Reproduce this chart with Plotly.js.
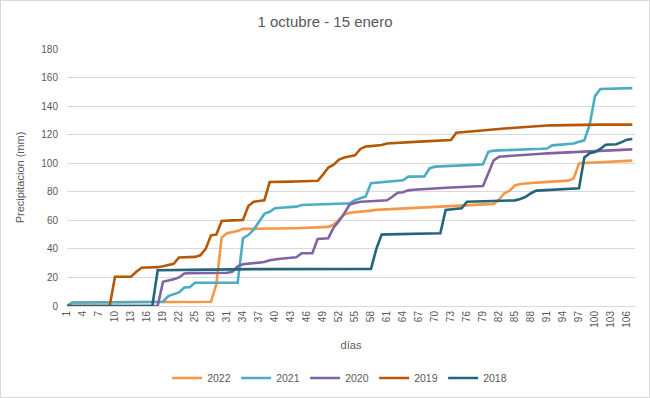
<!DOCTYPE html>
<html>
<head>
<meta charset="utf-8">
<script src="https://cdn.plot.ly/plotly-3.0.1.min.js"></script>
<style>
  html, body { margin: 0; padding: 0; background: #ffffff; }
  #wrap { position: relative; width: 650px; height: 398px; }
  #chart { width: 650px; height: 398px; }
  #frame { position: absolute; left: 0; top: 0; width: 650px; height: 398px; box-sizing: border-box; border: 1px solid #D9D9D9; pointer-events: none; }
</style>
</head>
<body>
<div id="wrap"><div id="chart"></div><div id="frame"></div></div>
<script>
// Categories: day number from 1 Oct
const days = [
  1,2,3,4,5,6,7,8,9,10,
  11,12,13,14,15,16,17,18,19,20,
  21,22,23,24,25,26,27,28,29,30,
  31,32,33,34,35,36,37,38,39,40,
  41,42,43,44,45,46,47,48,49,50,
  51,52,53,54,55,56,57,58,59,60,
  61,62,63,64,65,66,67,68,69,70,
  71,72,73,74,75,76,77,78,79,80,
  81,82,83,84,85,86,87,88,89,90,
  91,92,93,94,95,96,97,98,99,100,
  101,102,103,104,105,106,107
];
const tickDays = [1,4,7,10,13,16,19,22,25,28,31,34,37,40,43,46,49,52,55,58,61,64,67,70,73,76,79,82,85,88,91,94,97,100,103,106];
const tickLabels = ["1","4","7","10","13","16","19","22","25","28","31","34","37","40","43","46","49","52","55","58","61","64","67","70","73","76","79","82","85","88","91","94","97","100","103","106"];

const seriesNames = ["2022","2021","2020","2019","2018"];

const s2022 = [
  0,2.5,2.5,2.5,2.5,2.5,2.5,2.5,2.5,2.5,
  2.5,2.5,2.5,2.5,2.5,2.5,2.5,2.5,2.5,2.5,
  2.5,2.5,2.5,2.5,2.5,2.5,2.5,3,15,48,
  51,51.7,52.5,54,54,54,54,54,54.1,54.2,
  54.3,54.4,54.4,54.5,54.6,54.7,54.8,54.9,55,55.4,
  57,60.5,64,65.3,65.6,65.8,66,66.8,67.3,67.5,
  67.7,67.9,68.1,68.3,68.4,68.6,68.8,69,69.2,69.4,
  69.5,69.7,69.9,70.1,70.3,70.5,70.7,70.9,71.1,71.4,
  71.5,74.5,79,80.8,84.5,85.5,86,86.2,86.4,86.6,
  86.8,87,87.2,87.4,87.8,89.4,99.8,100.2,100.4,100.6,
  100.8,101,101.2,101.4,101.5,101.7,101.8
];
const s2021 = [
  0,2.5,2.5,2.5,2.5,2.5,2.5,2.5,2.5,2.5,
  2.5,2.5,2.5,2.5,2.5,2.5,2.5,2.5,3,7,
  8,9.5,13,13.2,16.3,16.3,16.3,16.3,16.3,16.3,
  16.3,16.3,16.3,47.5,49.7,53.5,59,64.5,66,68.5,
  68.8,69,69.3,69.6,70.7,70.9,71.1,71.2,71.3,71.5,
  71.6,71.7,71.8,71.9,74.2,75.5,76.7,86,86.4,86.7,
  87,87.3,87.6,88,90.6,90.6,90.7,90.8,96.5,97.6,
  97.8,97.9,98,98.2,98.5,98.7,98.9,99,99.2,108,
  108.8,109,109.2,109.4,109.6,109.7,109.8,109.9,110,110.1,
  110.3,112.5,112.7,112.9,113.1,113.8,115,116,127,147,
  152,152.1,152.2,152.3,152.4,152.5,152.6
];
const s2020 = [
  0,0,0,0,0,0,0,0,0,0,
  0,0,0,0,0,0,0,0,17,17.8,
  18.7,20,22.8,23,23,23.1,23.1,23.2,23.2,23.2,
  23.3,24,27.8,29.2,29.6,29.9,30.2,30.8,32,32.8,
  33.1,33.4,33.7,34.1,36.9,37,37,47,47.2,47.5,
  55,59.5,65,71,72.2,73,73.2,73.4,73.6,73.8,
  74,76.5,79.3,79.7,81,81.4,81.7,82,82.2,82.5,
  82.7,82.9,83,83.2,83.3,83.5,83.6,83.8,84,93,
  102,104.6,104.8,105,105.2,105.4,105.7,106,106.3,106.6,
  106.9,107.1,107.3,107.5,107.7,107.9,108.1,108.3,108.5,108.7,
  108.9,109,109.2,109.3,109.4,109.6,109.7
];
const s2019 = [
  0,0,0,0,0,0,0,0,0,20.5,
  20.5,20.5,20.5,24,26.8,27,27,27.2,27.8,28.4,
  29.5,34,34.2,34.3,34.4,35.5,40,49.5,50,59.5,
  60,60,60.1,60.3,70,73,73.5,74,86.8,87,
  87,87,87.1,87.2,87.3,87.4,87.5,87.7,92,97,
  99,102.5,104,104.7,105.5,110,111.7,112,112.3,112.7,
  113.8,114.1,114.3,114.5,114.7,114.9,115.1,115.3,115.5,115.7,
  115.9,116,116.2,121.3,121.7,122,122.3,122.6,123,123.4,
  123.7,124,124.3,124.6,125,125.2,125.5,125.8,126,126.2,
  126.4,126.5,126.6,126.7,126.8,126.9,127,127,127,127,
  127,127,127,127,127,127,127
];
const s2018 = [
  0,0,0,0,0,0,0,0,0,0,
  0,0,0,0,0,0,0,25,25.1,25.2,
  25.2,25.3,25.3,25.4,25.4,25.5,25.5,25.5,25.6,25.6,
  25.6,25.7,25.7,25.7,25.8,25.8,25.8,25.8,25.8,25.8,
  25.8,25.8,25.8,25.8,25.8,25.8,25.8,25.8,25.8,25.8,
  25.8,25.8,25.8,25.8,25.8,25.8,25.8,26,40,50,
  50.2,50.3,50.4,50.5,50.6,50.6,50.7,50.8,50.8,50.9,
  51,67.2,67.5,67.8,68.4,73,73.1,73.2,73.3,73.4,
  73.5,73.6,73.7,73.8,74,75,76.5,79,80.8,81,
  81.2,81.4,81.6,81.8,82,82.2,82.5,104,107,107.8,
  110,113,113.1,113.3,114.8,116.5,117
];

const allSeries = [s2022, s2021, s2020, s2019, s2018];
const colors = ["#F79646", "#4BACC6", "#8064A2", "#B65708", "#23667A"];

const FONT = "Liberation Sans, Arial, sans-serif";
const TXT = "#595959";

const traces = allSeries.map((vals, i) => ({
  type: "scatter",
  mode: "lines",
  name: seriesNames[i],
  x: days,
  y: vals,
  line: { color: colors[i], width: 2.6 },
  hoverinfo: "skip"
}));

const layout = {
  width: 650,
  height: 398,
  margin: { l: 67, r: 15, t: 49, b: 92, autoexpand: false },
  paper_bgcolor: "#ffffff",
  plot_bgcolor: "#ffffff",
  font: { family: FONT, color: TXT, size: 10 },
  title: {
    text: "1 octubre - 15 enero",
    font: { family: FONT, size: 15, color: TXT },
    x: 0.5, xanchor: "center", xref: "container",
    y: 0.945, yanchor: "middle", yref: "container"
  },
  xaxis: {
    type: "linear",
    range: [1, 107.5],
    tickmode: "array",
    tickvals: tickDays,
    ticktext: tickLabels,
    tickangle: -90,
    tickfont: { family: FONT, size: 10, color: TXT },
    showgrid: false,
    zeroline: false,
    showline: true,
    linecolor: "#D9D9D9",
    linewidth: 1,
    ticks: "",
    automargin: false,
    title: { text: "días", font: { family: FONT, size: 11, color: TXT }, standoff: 14 }
  },
  yaxis: {
    range: [0, 180],
    dtick: 20,
    tick0: 0,
    showgrid: true,
    gridcolor: "#D9D9D9",
    gridwidth: 1,
    zeroline: false,
    showline: false,
    ticks: "",
    ticklabelstandoff: 8,
    tickfont: { family: FONT, size: 10, color: TXT },
    automargin: false,
    title: { text: "Precipitacion (mm)", font: { family: FONT, size: 11, color: TXT }, standoff: 14 }
  },
  showlegend: true,
  legend: {
    orientation: "h",
    x: 0.48, xanchor: "center",
    y: -0.28, yanchor: "middle",
    font: { family: FONT, size: 10.5, color: TXT },
    itemwidth: 30,
    entrywidth: 24,
    entrywidthmode: "pixels",
    traceorder: "normal",
    bgcolor: "rgba(0,0,0,0)"
  }
};

Plotly.newPlot("chart", traces, layout, { displayModeBar: false, staticPlot: true });
</script>
</body>
</html>
